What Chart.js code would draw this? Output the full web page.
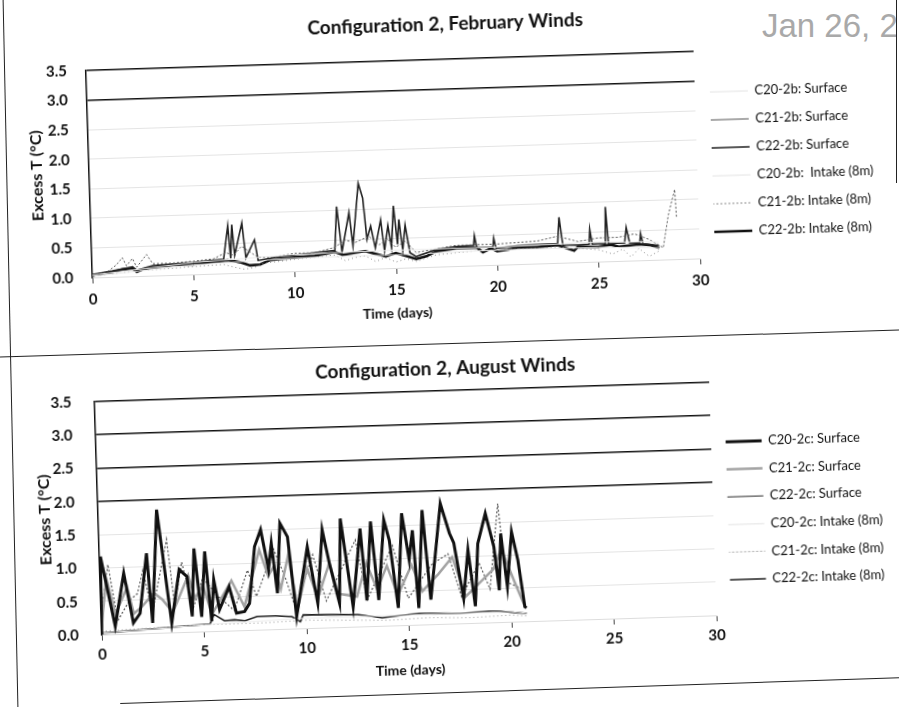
<!DOCTYPE html>
<html>
<head>
<meta charset="utf-8">
<script src="https://cdn.jsdelivr.net/npm/chart.js@4.4.1/dist/chart.umd.min.js"></script>
<style>
html, body { margin: 0; padding: 0; background: #fff; }
body { width: 899px; height: 707px; overflow: hidden; position: relative; font-family: Lato, sans-serif; }
.box { position: absolute; left: 0; width: 899px; }
#topBox { top: 0; height: 335px; transform-origin: 393px 164px; transform: rotate(-1.8deg); }
#botBox { top: 337px; height: 370px; transform-origin: 405.5px 171.5px; transform: rotate(-1.8deg); }
.hrule { position: absolute; height: 0; border-top: 1.5px solid #222; }
.vrule { position: absolute; width: 0; border-left: 1.5px solid #222; }
#stamp { position: absolute; left: 762px; top: 9px; width: 134px; overflow: hidden; font: 33px/33px "Liberation Sans", Arial, sans-serif; color: #a9a9a9; white-space: nowrap; }
</style>
</head>
<body>
<div id="stamp">Jan 26, 2010</div>
<div class="vrule" style="left:10px; top:-5px; height:717px; transform: rotate(-1.2deg);"></div>
<div class="vrule" style="left:896px; top:0; height:183px;"></div>
<div class="hrule" style="left:-10px; top:343px; width:920px; transform: rotate(-1.72deg);"></div>
<div class="hrule" style="left:120px; top:690px; width:790px; transform: rotate(-1.9deg);"></div>

<div class="box" id="topBox"><canvas id="febChart" width="899" height="335"></canvas></div>
<div class="box" id="botBox"><canvas id="augChart" width="899" height="370"></canvas></div>

<script>
Chart.defaults.font.family = 'Lato, "Open Sans", sans-serif';

// February winds, [day, excess T]
const febC20Surface = [[0,0.04],[5,0.2],[10,0.28],[15,0.3],[20,0.3],[25,0.33],[28,0.3]];
const febC21Surface = [[0,0.02],[0.8,0.1],[1.2,0.2],[1.5,0.32],[1.7,0.18],[2.0,0.3],[2.2,0.15],[2.7,0.36],[3.0,0.2],[4,0.2],[5,0.22],[6,0.25],[6.6,0.35],[7,0.3],[7.4,0.45],[7.8,0.35],[8.2,0.25],[9,0.25],[10,0.3],[11,0.3],[12,0.38],[12.5,0.5],[13,0.45],[13.7,0.55],[14.2,0.4],[14.6,0.5],[15,0.35],[15.5,0.45],[16,0.25],[17,0.3],[18,0.35],[20,0.35],[22,0.38],[23,0.45],[24,0.35],[25,0.4],[26,0.4],[26.8,0.45],[27.5,0.35],[28.2,0.2],[28.5,0.75],[28.85,1.18],[28.9,0.7]];
const febC22Surface = [[0,0.05],[1,0.1],[2,0.16],[2.2,0.1],[3,0.17],[5,0.2],[6.5,0.24],[6.75,0.8],[6.85,0.25],[6.95,0.82],[7.05,0.3],[7.45,0.84],[7.6,0.25],[8.05,0.55],[8.2,0.2],[9,0.24],[10,0.27],[12,0.33],[12.15,1.07],[12.35,0.3],[12.75,0.96],[12.9,0.4],[13.25,1.45],[13.45,1.2],[13.6,0.5],[13.8,0.72],[14,0.35],[14.3,0.82],[14.45,0.3],[14.65,0.72],[14.8,0.35],[14.95,1.05],[15.1,0.4],[15.2,0.82],[15.35,0.3],[15.5,0.72],[15.7,0.25],[16,0.18],[17,0.29],[18,0.33],[18.85,0.34],[18.9,0.5],[19,0.3],[19.8,0.3],[19.85,0.45],[19.95,0.28],[21,0.31],[23,0.33],[23.1,0.77],[23.25,0.3],[24,0.29],[24.55,0.3],[24.6,0.55],[24.7,0.3],[25.35,0.3],[25.4,0.92],[25.5,0.3],[26.3,0.3],[26.4,0.56],[26.55,0.3],[27.05,0.3],[27.1,0.45],[27.2,0.28],[28,0.24]];
const febC20Intake = [[0,0.02],[5,0.16],[10,0.22],[15,0.22],[20,0.25],[25,0.24],[28,0.2]];
const febC21Intake = [[0,0.02],[1,0.05],[2,0.08],[3,0.1],[5,0.13],[6.5,0.15],[7,0.1],[7.5,0.06],[8,0.08],[8.5,0.15],[10,0.2],[12,0.25],[12.5,0.15],[13,0.2],[13.5,0.22],[14,0.12],[14.5,0.18],[15,0.1],[15.5,0.15],[16,0.1],[17,0.2],[19,0.25],[21,0.25],[23,0.27],[25,0.2],[25.7,0.12],[26.2,0.2],[26.6,0.06],[27,0.2],[27.5,0.06],[28,0.15]];
const febC22Intake = [[0,0.03],[0.5,0.06],[1,0.08],[1.5,0.12],[2,0.13],[2.2,0.07],[2.6,0.12],[3,0.14],[4,0.17],[5,0.17],[6,0.2],[6.7,0.22],[7.3,0.18],[7.8,0.12],[8.3,0.13],[8.8,0.2],[9.5,0.22],[10,0.23],[11,0.25],[12,0.3],[12.4,0.25],[13,0.28],[13.5,0.3],[14,0.25],[14.5,0.2],[15,0.25],[15.5,0.2],[16,0.14],[16.5,0.18],[17,0.26],[18,0.3],[19,0.3],[19.3,0.22],[19.7,0.28],[20,0.23],[20.5,0.25],[21,0.28],[22,0.28],[23,0.3],[23.8,0.2],[24,0.26],[25,0.25],[25.6,0.28],[26,0.24],[27,0.27],[27.6,0.25],[28,0.2]];

// August winds, [day, excess T]
const augC20Surface = [[0,0],[0.05,1.17],[0.67,0.12],[1.16,0.91],[1.56,0.16],[1.9,0.3],[2.3,1.2],[2.5,0.15],[2.86,1.85],[3.43,0.14],[3.87,0.94],[4.24,0.83],[4.44,0.23],[4.62,1.25],[4.9,0.22],[5.14,1.2],[5.38,0.15],[5.54,0.77],[5.78,0.32],[6.28,0.66],[6.6,0.26],[7.0,0.28],[7.25,0.4],[7.58,1.25],[7.9,1.5],[8.23,0.9],[8.4,1.29],[8.63,0.54],[8.85,1.59],[9.2,1.38],[9.53,0.18],[10.15,1.22],[10.58,0.37],[10.9,1.47],[11.2,0.97],[11.64,0.36],[11.8,1.63],[12.3,0.3],[12.75,1.47],[12.98,0.39],[13.27,1.57],[13.56,0.39],[13.92,1.59],[14.16,1.28],[14.5,0.26],[14.8,1.68],[15.1,0.98],[15.3,1.42],[15.5,0.25],[15.8,1.72],[16.1,0.37],[16.7,1.81],[17.1,1.36],[17.3,1.21],[17.7,0.37],[17.98,1.1],[18.26,0.25],[18.47,1.19],[18.88,1.64],[19.25,1.13],[19.45,0.48],[19.6,1.33],[19.85,0.53],[20.13,1.35],[20.4,0.92],[20.67,0.22],[20.75,0.2]];
const augC21Surface = [[0,0.1],[0.3,0.85],[0.7,0.3],[1.3,0.7],[1.6,0.3],[2.0,0.4],[2.6,0.6],[3.0,0.5],[3.5,0.3],[4.3,0.85],[4.6,0.5],[5.0,0.7],[5.4,0.25],[5.9,0.5],[6.4,0.75],[7.0,0.35],[7.8,1.2],[8.2,0.8],[8.5,0.95],[8.8,0.6],[9.2,1.1],[9.6,0.3],[10.1,0.9],[10.6,0.45],[11.2,0.97],[11.6,0.5],[12.5,0.45],[13.0,0.95],[13.5,0.55],[14.0,0.9],[14.5,0.45],[15.2,0.9],[15.7,0.5],[16.5,0.75],[17.2,1.0],[17.8,0.4],[18.5,0.6],[19.2,0.8],[19.6,1.1],[20.2,0.6],[20.7,0.2]];
const augC22Surface = [[0,0.3],[0.4,1.05],[0.8,0.2],[1.4,0.5],[1.8,0.6],[2.1,0.95],[2.5,0.3],[3.3,1.4],[3.6,0.4],[4.0,1.05],[4.5,0.35],[5.0,0.8],[5.8,0.5],[6.5,0.3],[7.2,0.9],[7.6,0.5],[8.5,1.2],[9.0,0.8],[9.5,0.3],[10.4,1.1],[11.0,0.4],[12.5,1.3],[13.0,0.4],[14.3,1.2],[15.0,0.4],[16.2,0.9],[17.0,1.05],[17.6,0.4],[18.5,0.9],[19.0,0.5],[19.5,1.78],[19.8,0.6],[20.5,0.5]];
const augC20Intake = [[0,0.02],[5,0.1],[10,0.15],[15,0.15],[20,0.15],[20.75,0.12]];
const augC21Intake = [[0,0.05],[5,0.1],[6,0.1],[8,0.1],[10,0.12],[12,0.1],[14,0.08],[16,0.1],[18,0.08],[20,0.1],[20.75,0.08]];
const augC22Intake = [[0,0.02],[5.3,0.11],[5.5,0.25],[6,0.15],[6.5,0.16],[7,0.14],[7.6,0.2],[8.5,0.2],[9.3,0.18],[9.7,0.1],[9.85,0.2],[11.3,0.19],[12.5,0.18],[13.7,0.12],[14.7,0.15],[15.5,0.17],[16.3,0.16],[17.5,0.15],[18.9,0.17],[19.5,0.16],[20.4,0.13],[20.75,0.12]];

function series(label, pts, color, width, dash) {
  return {
    label: label,
    data: pts.map(p => ({ x: p[0], y: p[1] })),
    borderColor: color, backgroundColor: color,
    borderWidth: width, borderDash: dash || [],
    showLine: true, pointRadius: 0, tension: 0
  };
}

function buildChart(id, o) {
  return new Chart(document.getElementById(id), {
    type: 'scatter',
    data: { datasets: o.datasets },
    options: {
      responsive: false,
      animation: false,
      layout: { padding: 0 },
      plugins: {
        title: { display: true, text: o.title, color: '#111', font: { size: 19, weight: 'bold' }, padding: o.titlePad },
        legend: {
          position: 'right', align: 'center', fullSize: false,
          title: { display: true, text: ' ', font: { size: 1 }, padding: { top: o.legendShift - 1.2, bottom: 0 } },
          labels: { boxWidth: o.boxW, boxHeight: 0, padding: o.legendPad, color: '#111', font: { size: 13 } }
        },
        tooltip: { enabled: false }
      },
      scales: {
        x: {
          type: 'linear', min: 0, max: 30,
          afterFit: s => { s.height = o.xH; },
          ticks: { stepSize: 5, color: '#111', font: { size: 15, weight: 'bold' }, padding: o.xTickPad, maxRotation: 0 },
          grid: { drawOnChartArea: false, drawTicks: true, tickLength: 6, tickColor: '#444' },
          border: { color: '#ddd' },
          title: { display: true, text: 'Time (days)', color: '#111', font: { size: 14, weight: 'bold' }, padding: { top: 0, bottom: o.xTitlePad } }
        },
        y: {
          min: 0, max: 3.5,
          afterFit: s => { s.width = o.yW; },
          ticks: { stepSize: 0.5, color: '#111', font: { size: 15, weight: 'bold' }, padding: o.yTickPad, callback: v => v.toFixed(1) },
          grid: {
            drawTicks: false,
            color: c => (c.tick && c.tick.value >= o.darkFrom) ? '#111' : '#e4e4e4',
            lineWidth: c => (c.tick && c.tick.value >= o.darkFrom) ? 1.6 : 1
          },
          border: { color: '#111', width: 1.5 },
          title: { display: true, text: 'Excess T (°C)', color: '#111', font: { size: 16, weight: 'bold' }, padding: { top: o.yTitlePad, bottom: 0 } }
        }
      }
    },
    plugins: [{
      id: 'legendWidth',
      beforeLayout(chart) {
        const leg = chart.legend;
        if (leg && !leg._fixedFit) {
          const fit = leg.fit;
          leg.fit = function () { fit.call(this); this.width = o.legendW; };
          leg._fixedFit = true;
        }
      }
    }]
  });
}

const faint = '#ececec';

buildChart('febChart', {
  title: 'Configuration 2, February Winds',
  titlePad: { top: 14.3, bottom: 23.9 },
  legendShift: 15, legendPad: 15, boxW: 38, legendW: 202,
  xH: 67, xTickPad: 7.6, xTitlePad: 13.6,
  yW: 89, yTickPad: 19, yTitlePad: 27.4, darkFrom: 3,
  datasets: [
    series('C20-2b: Surface', febC20Surface, faint, 1),
    series('C21-2b: Surface', febC21Surface, '#555', 1, [2, 2]),
    series('C22-2b: Surface', febC22Surface, '#222', 1.6),
    series('C20-2b:  Intake (8m)', febC20Intake, faint, 1),
    series('C21-2b: Intake (8m)', febC21Intake, '#8a8a8a', 1, [1, 3]),
    series('C22-2b: Intake (8m)', febC22Intake, '#111', 2.6)
  ]
});

buildChart('augChart', {
  title: 'Configuration 2, August Winds',
  titlePad: { top: 21.3, bottom: 10.9 },
  legendShift: 25, legendPad: 14.6, boxW: 36, legendW: 186,
  xH: 82, xTickPad: 5, xTitlePad: 28.6,
  yW: 98, yTickPad: 23, yTitlePad: 35.4, darkFrom: 2,
  datasets: [
    series('C20-2c: Surface', augC20Surface, '#111', 3),
    series('C21-2c: Surface', augC21Surface, '#a3a3a3', 2.5),
    series('C22-2c: Surface', augC22Surface, '#555', 1.2, [2, 2]),
    series('C20-2c: Intake (8m)', augC20Intake, faint, 1),
    series('C21-2c: Intake (8m)', augC21Intake, '#999', 1, [1, 3]),
    series('C22-2c: Intake (8m)', augC22Intake, '#222', 1.6)
  ]
});
</script>
</body>
</html>
